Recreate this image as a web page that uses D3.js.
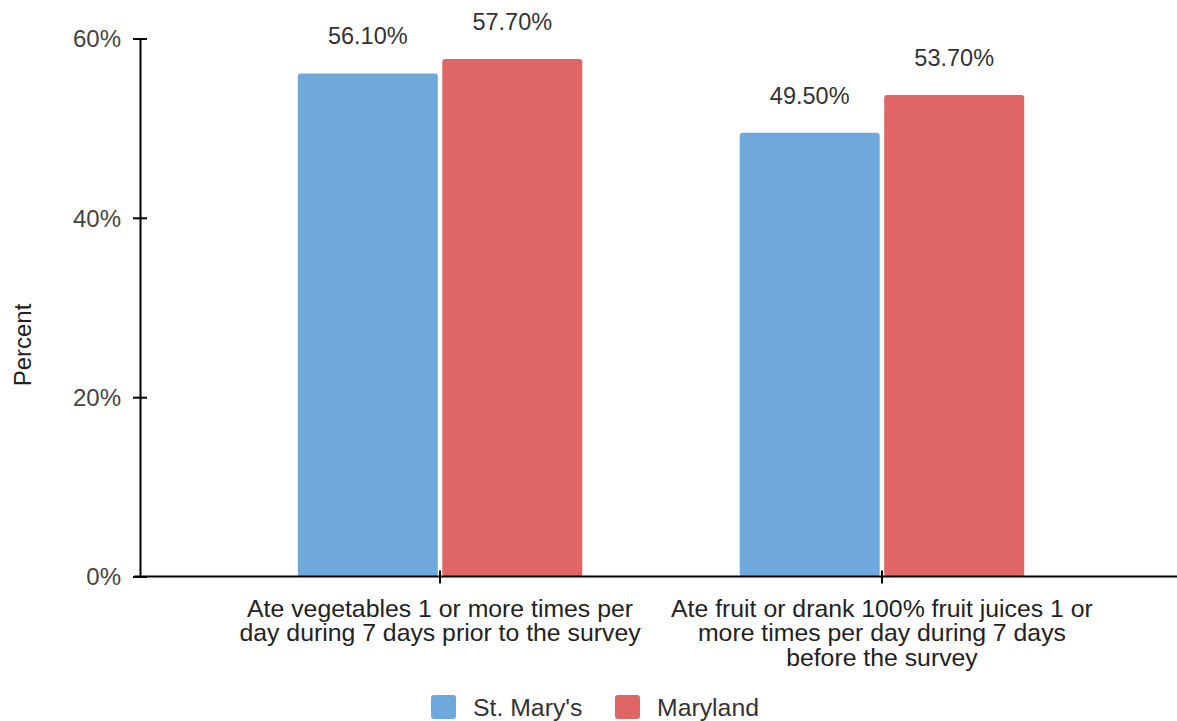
<!DOCTYPE html>
<html>
<head>
<meta charset="utf-8">
<script src="https://cdn.jsdelivr.net/npm/d3@7"></script>
<style>
  html, body { margin: 0; padding: 0; background: #fff; }
  svg { display: block; }
  text { font-family: "Liberation Sans", Arial, sans-serif; }
</style>
</head>
<body>
<svg id="chart" width="1177" height="721"></svg>
<script>
// Share of students meeting daily produce intake, by area
const categories = [
  ["Ate vegetables 1 or more times per", "day during 7 days prior to the survey"],
  ["Ate fruit or drank 100% fruit juices 1 or", "more times per day during 7 days", "before the survey"]
];
const seriesNames = ["St. Mary's", "Maryland"];
const stMarys = [56.1, 49.5];
const maryland = [57.7, 53.7];
const yTicks = [0, 20, 40, 60];
const colors = ["#6fa8dc", "#e06666"];

const svg = d3.select("#chart");
const width = 1177, height = 721;
const margin = { left: 140, top: 38.5, bottom: 144.5 };
const plotBottom = height - margin.bottom;

const y = d3.scaleLinear().domain([0, 60]).range([plotBottom, margin.top]);

const x = d3.scaleBand()
  .domain(d3.range(categories.length))
  .range([margin.left, 1182])
  .paddingInner(0)
  .paddingOuter(0.179);

const series = [stMarys, maryland];
const barW = 140;
const gap = 4.5;
const center = i => x(i) + x.bandwidth() / 2;

// bars and value labels
const groups = svg.append("g").selectAll("g")
  .data(categories.map((c, i) => i))
  .join("g");

series.forEach((vals, s) => {
  const left = i => s === 0 ? center(i) - gap / 2 - barW : center(i) + gap / 2;
  groups.append("rect")
    .attr("x", left)
    .attr("y", i => y(vals[i]))
    .attr("width", barW)
    .attr("height", i => plotBottom - y(vals[i]))
    .attr("rx", 3)
    .attr("fill", colors[s]);

  groups.append("text")
    .attr("x", i => left(i) + barW / 2)
    .attr("y", i => y(vals[i]) - 29)
    .attr("text-anchor", "middle")
    .attr("font-size", 23.5)
    .attr("fill", "#333")
    .text(i => vals[i].toFixed(2) + "%");
});

// y axis
const yAxis = svg.append("g").attr("transform", `translate(${margin.left},0)`)
  .call(d3.axisLeft(y).tickValues(yTicks).tickFormat(d => d + "%").tickSize(0).tickPadding(19));
yAxis.attr("font-family", null);
yAxis.select(".domain").attr("stroke", "#000").attr("stroke-width", 2);
yAxis.selectAll(".tick text").attr("font-size", 24).attr("fill", "#444").attr("dy", "0.35em");
yAxis.selectAll(".tick").append("line")
  .attr("x1", -7).attr("x2", 7).attr("stroke", "#000").attr("stroke-width", 2);

// x axis with wrapped category labels
const xAxis = svg.append("g").attr("transform", `translate(0,${plotBottom})`);
xAxis.append("line").attr("x1", margin.left - 6).attr("x2", width)
  .attr("stroke", "#000").attr("stroke-width", 2);
xAxis.selectAll("line.tk").data(categories.map((c, i) => i)).join("line")
  .attr("class", "tk")
  .attr("x1", center).attr("x2", center)
  .attr("y1", -6).attr("y2", 7).attr("stroke", "#000").attr("stroke-width", 2);
xAxis.selectAll("text.cat").data(categories).join("text")
  .attr("class", "cat")
  .attr("x", (c, i) => center(i))
  .attr("y", 40)
  .attr("text-anchor", "middle")
  .attr("font-size", 24.8)
  .attr("fill", "#222")
  .each(function(lines) {
    d3.select(this).selectAll("tspan").data(lines).join("tspan")
      .attr("x", d3.select(this).attr("x"))
      .attr("dy", (d, j) => j === 0 ? 0 : 24.5)
      .text(d => d);
  });

// y axis title
svg.append("text")
  .attr("transform", "translate(31,345) rotate(-90)")
  .attr("text-anchor", "middle")
  .attr("font-size", 24)
  .attr("fill", "#222")
  .text("Percent");

// legend
const legend = svg.append("g").attr("transform", "translate(431,695)");
const legX = [0, 184];
seriesNames.forEach((name, s) => {
  const g = legend.append("g").attr("transform", `translate(${legX[s]},0)`);
  g.append("rect").attr("width", 25).attr("height", 24).attr("rx", 3).attr("fill", colors[s]);
  g.append("text").attr("x", 42).attr("y", 21).attr("font-size", 24.8).attr("fill", "#333")
    .text(name);
});
</script>
</body>
</html>
